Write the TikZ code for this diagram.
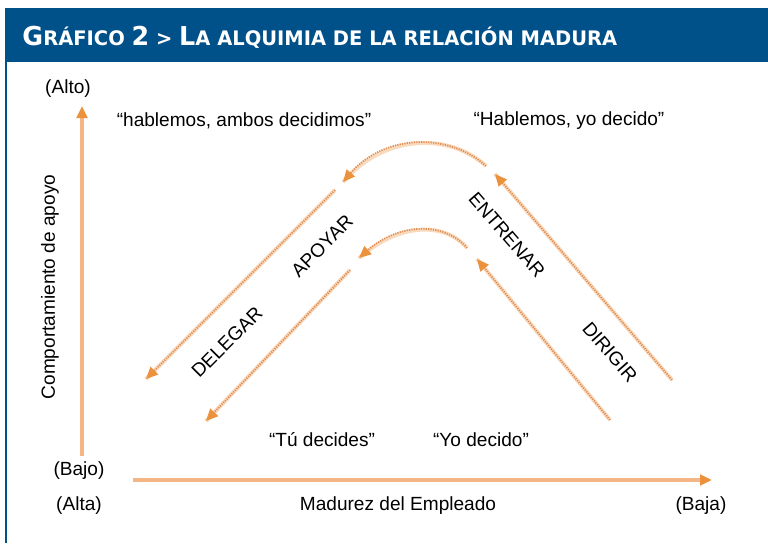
\documentclass[tikz,border=0pt]{standalone}
\usepackage{fontspec}
\setmainfont{Liberation Sans}
\newfontfamily\titlefont[FakeStretch=0.975]{DejaVu Sans}
\usetikzlibrary{arrows.meta}

\definecolor{barblue}{RGB}{0,80,138}
\definecolor{axisorange}{RGB}{243,182,132}
\definecolor{tiporange}{RGB}{236,145,60}
\definecolor{trailorange}{RGB}{220,140,85}
\definecolor{traillight}{RGB}{250,218,188}

\newcommand{\tcap}[1]{{\fontsize{19.5}{20}\selectfont #1}}

\tikzset{every picture/.style={line width=0.75pt}}
\tikzset{
  lbl/.style={inner sep=0.75pt, font=\fontsize{14.3}{16}\selectfont},
  axisline/.style={draw=axisorange, line width=2.4pt, -{Triangle[length=9pt,width=8pt,fill=tiporange,color=tiporange]}},
  trail/.style={draw=trailorange, line width=1.3pt, dash pattern={on 0.9pt off 0.9pt},
    preaction={draw=traillight, line width=3pt, solid, arrows=-},
    -{Triangle[length=9pt,width=8pt,fill=tiporange,color=tiporange]}},
}

\begin{document}
\begin{tikzpicture}[x=0.75pt,y=0.75pt,yscale=-1,xscale=1]
        \useasboundingbox (0,0) rectangle (768,543);

        %Shape: Rectangle [id:title bar]
        \fill [barblue] (5,8) rectangle (768,62);
        %Straight Lines [id:frame left]
        \draw [barblue, line width=1.5pt] (5.5,8) -- (5.5,543);
        % Text Node
        \node (title) [anchor=base west, inner sep=0pt, text=white, font=\titlefont\bfseries\fontsize{15}{16}\selectfont] at (22,45)
            {\tcap{G}RÁFICO \tcap{2} > \tcap{L}A ALQUIMIA DE LA RELACIÓN MADURA};

        % Axis coordinates
        \coordinate (yfoot) at (82,456);
        \coordinate (ytop) at (82,106);
        \coordinate (xfoot) at (133,480);
        \coordinate (xtip) at (712,480);
        %Straight Lines [id:vertical axis]
        \draw [axisline] (yfoot) -- (ytop);
        %Straight Lines [id:horizontal axis]
        \draw [axisline] (xfoot) -- (xtip);

        % Outer path
        \coordinate (outerR0) at (672,380);
        \coordinate (outerR1) at (495,174);
        \coordinate (outerC0) at (486,166);
        \coordinate (outerC1) at (343,182);
        \coordinate (outerL0) at (335,190);
        \coordinate (outerL1) at (146,379);
        %Straight Lines [id:outer right]
        \draw [trail] (outerR0) -- (outerR1);
        %Curve Lines [id:outer top]
        \draw [trail] (outerC0) .. controls (450,133) and (385,133) .. (outerC1);
        %Straight Lines [id:outer left]
        \draw [trail] (outerL0) -- (outerL1);

        % Inner path
        \coordinate (innerR0) at (610,420);
        \coordinate (innerR1) at (477,259);
        \coordinate (innerC0) at (467,248);
        \coordinate (innerC1) at (359,258);
        \coordinate (innerL0) at (350,270);
        \coordinate (innerL1) at (206,421);
        %Straight Lines [id:inner right]
        \draw [trail] (innerR0) -- (innerR1);
        %Curve Lines [id:inner top]
        \draw [trail] (innerC0) .. controls (445,222) and (400,222) .. (innerC1);
        %Straight Lines [id:inner left]
        \draw [trail] (innerL0) -- (innerL1);

        % Text Node
        \node (alto) [lbl] at (68,89) {(Alto)};
        % Text Node
        \node (bajo) [lbl] at (79,471) {(Bajo)};
        % Text Node
        \node (alta) [lbl] at (79,506) {(Alta)};
        % Text Node
        \node (baja) [lbl] at (701,506) {(Baja)};
        % Text Node
        \node (madurez) [lbl] at (398,506) {Madurez del Empleado};
        % Text Node
        \node (apoyo) [lbl, rotate=90] at (50,287) {Comportamiento de apoyo};
        % Text Node
        \node (ambos) [lbl] at (244,121) {“hablemos, ambos decidimos”};
        % Text Node
        \node (hablemos) [lbl] at (569,121) {“Hablemos, yo decido”};
        % Text Node
        \node (tu) [lbl] at (322,440) {“Tú decides”};
        % Text Node
        \node (yo) [lbl] at (481,440) {“Yo decido”};
        % Text Node
        \node (entrenar) [lbl, rotate=-49] at (507,235) {ENTRENAR};
        % Text Node
        \node (dirigir) [lbl, rotate=-49] at (610,352) {DIRIGIR};
        % Text Node
        \node (apoyar) [lbl, rotate=45] at (322,246) {APOYAR};
        % Text Node
        \node (delegar) [lbl, rotate=45] at (227,342) {DELEGAR};

    \end{tikzpicture}
\end{document}
